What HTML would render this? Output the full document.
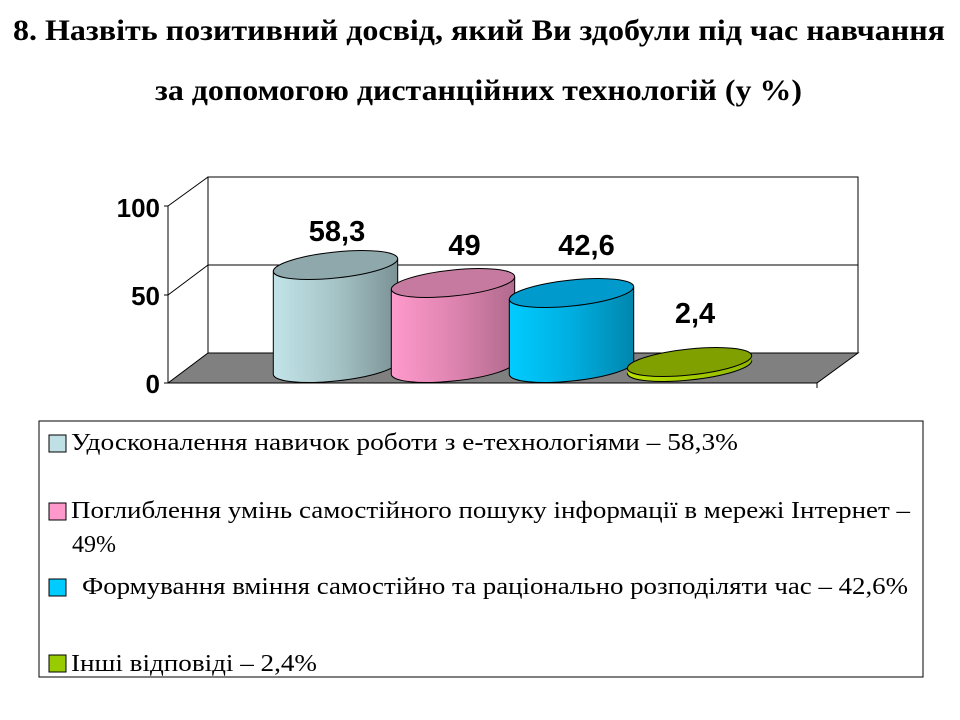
<!DOCTYPE html>
<html>
<head>
<meta charset="utf-8">
<style>
html,body{margin:0;padding:0;background:#fff;}
svg{display:block;}
</style>
</head>
<body>
<svg width="960" height="720" viewBox="0 0 960 720" xmlns="http://www.w3.org/2000/svg">
<defs>
<linearGradient id="g1" gradientUnits="userSpaceOnUse" x1="273" y1="0" x2="398" y2="0">
<stop offset="0" stop-color="#c2e4e8"/><stop offset="0.5" stop-color="#a6c4c7"/><stop offset="1" stop-color="#7b9295"/>
</linearGradient>
<linearGradient id="g2" gradientUnits="userSpaceOnUse" x1="391" y1="0" x2="515" y2="0">
<stop offset="0" stop-color="#ff9acc"/><stop offset="0.5" stop-color="#de84b0"/><stop offset="1" stop-color="#b06a8c"/>
</linearGradient>
<linearGradient id="g3" gradientUnits="userSpaceOnUse" x1="509" y1="0" x2="634" y2="0">
<stop offset="0" stop-color="#00ccff"/><stop offset="0.5" stop-color="#00aee0"/><stop offset="1" stop-color="#0086ac"/>
</linearGradient>
<linearGradient id="g4" gradientUnits="userSpaceOnUse" x1="627" y1="0" x2="752" y2="0">
<stop offset="0" stop-color="#b8e000"/><stop offset="1" stop-color="#90b800"/>
</linearGradient>
</defs>
<rect width="960" height="720" fill="#fff"/>

<!-- Title -->
<text x="13" y="40" font-family="'Liberation Serif', serif" font-weight="bold" font-size="30" textLength="932" lengthAdjust="spacingAndGlyphs">8. Назвіть позитивний  досвід, який Ви здобули під час навчання</text>
<text x="155" y="100" font-family="'Liberation Serif', serif" font-weight="bold" font-size="30" textLength="647" lengthAdjust="spacingAndGlyphs">за допомогою дистанційних  технологій (у %)</text>

<!-- Chart walls -->
<rect x="208" y="177" width="650" height="176" fill="#fff" stroke="#000" stroke-width="1"/>
<line x1="208" y1="265" x2="858" y2="265" stroke="#000" stroke-width="1"/>
<line x1="168" y1="206" x2="208" y2="177" stroke="#000" stroke-width="1"/>
<line x1="168" y1="295" x2="208" y2="265" stroke="#000" stroke-width="1"/>
<line x1="168" y1="206" x2="168" y2="383" stroke="#000" stroke-width="1"/>
<polygon points="168,383 208,353 858,353 817,383" fill="#808080" stroke="#000" stroke-width="1"/>
<!-- ticks -->
<line x1="164" y1="206" x2="168" y2="206" stroke="#000"/>
<line x1="164" y1="295" x2="168" y2="295" stroke="#000"/>
<line x1="164" y1="383" x2="168" y2="383" stroke="#000"/>
<line x1="817" y1="383" x2="817" y2="388" stroke="#000"/>

<!-- axis labels -->
<g font-family="'Liberation Sans', sans-serif" font-weight="bold" font-size="26" text-anchor="end" fill="#000">
<text x="160" y="217">100</text>
<text x="160" y="305">50</text>
<text x="160" y="393">0</text>
</g>

<!-- Cylinder 1 -->
<g stroke="#000" stroke-width="1">
<ellipse cx="335.5" cy="368" rx="62.5" ry="13" transform="rotate(-6 335.5 368)" fill="url(#g1)"/>
<polygon points="273.3,271.25 273.3,374.25 397.7,361.75 397.7,258.75" fill="url(#g1)" stroke="none"/>
<line x1="273.3" y1="271.25" x2="273.3" y2="374.25"/>
<line x1="397.7" y1="258.75" x2="397.7" y2="361.75"/>
<ellipse cx="335.5" cy="265" rx="62.5" ry="13" transform="rotate(-6 335.5 265)" fill="#8ea8ab"/>
</g>
<!-- Cylinder 2 -->
<g stroke="#000" stroke-width="1">
<ellipse cx="453" cy="368" rx="62" ry="13" transform="rotate(-6 453 368)" fill="url(#g2)"/>
<polygon points="391.3,289.2 391.3,374.2 514.7,361.8 514.7,276.8" fill="url(#g2)" stroke="none"/>
<line x1="391.3" y1="289.2" x2="391.3" y2="374.2"/>
<line x1="514.7" y1="276.8" x2="514.7" y2="361.8"/>
<ellipse cx="453" cy="283" rx="62" ry="13" transform="rotate(-6 453 283)" fill="#c67a9f"/>
</g>
<!-- Cylinder 3 -->
<g stroke="#000" stroke-width="1">
<ellipse cx="571.5" cy="368" rx="62.5" ry="13" transform="rotate(-6 571.5 368)" fill="url(#g3)"/>
<polygon points="509.3,299.25 509.3,374.25 633.7,361.75 633.7,286.75" fill="url(#g3)" stroke="none"/>
<line x1="509.3" y1="299.25" x2="509.3" y2="374.25"/>
<line x1="633.7" y1="286.75" x2="633.7" y2="361.75"/>
<ellipse cx="571.5" cy="293" rx="62.5" ry="13" transform="rotate(-6 571.5 293)" fill="#009bcc"/>
</g>
<!-- Cylinder 4 -->
<g stroke="#000" stroke-width="1">
<ellipse cx="689.5" cy="367" rx="62.5" ry="13" transform="rotate(-6 689.5 367)" fill="url(#g4)"/>
<polygon points="627.3,368.25 627.3,373.25 751.7,360.75 751.7,355.75" fill="url(#g4)" stroke="none"/>
<ellipse cx="689.5" cy="362" rx="62.5" ry="13" transform="rotate(-6 689.5 362)" fill="#80a000"/>
</g>

<!-- value labels -->
<g font-family="'Liberation Sans', sans-serif" font-weight="bold" font-size="29" text-anchor="middle" fill="#000">
<text x="337" y="241">58,3</text>
<text x="464.5" y="255">49</text>
<text x="586.5" y="255">42,6</text>
<text x="695" y="323">2,4</text>
</g>

<!-- Legend -->
<rect x="39" y="421" width="884" height="256" fill="#fff" stroke="#000" stroke-width="1"/>
<rect x="49" y="435" width="17" height="17" fill="#bfe0e4" stroke="#000" stroke-width="1"/>
<rect x="49" y="503" width="17" height="17" fill="#ff99cc" stroke="#000" stroke-width="1"/>
<rect x="49" y="579" width="17" height="17" fill="#00ccff" stroke="#000" stroke-width="1"/>
<rect x="49" y="655" width="17" height="17" fill="#99cc00" stroke="#000" stroke-width="1"/>
<g font-family="'Liberation Serif', serif" font-size="24" fill="#000">
<text x="71" y="450" textLength="667" lengthAdjust="spacingAndGlyphs">Удосконалення навичок роботи з е-технологіями – 58,3%</text>
<text x="71" y="518" textLength="839" lengthAdjust="spacingAndGlyphs">Поглиблення умінь самостійного пошуку інформації в мережі Інтернет –</text>
<text x="72" y="552">49%</text>
<text x="82" y="594" textLength="826" lengthAdjust="spacingAndGlyphs">Формування вміння самостійно та раціонально розподіляти час – 42,6%</text>
<text x="71" y="671" textLength="246" lengthAdjust="spacingAndGlyphs">Інші відповіді – 2,4%</text>
</g>
</svg>
</body>
</html>
